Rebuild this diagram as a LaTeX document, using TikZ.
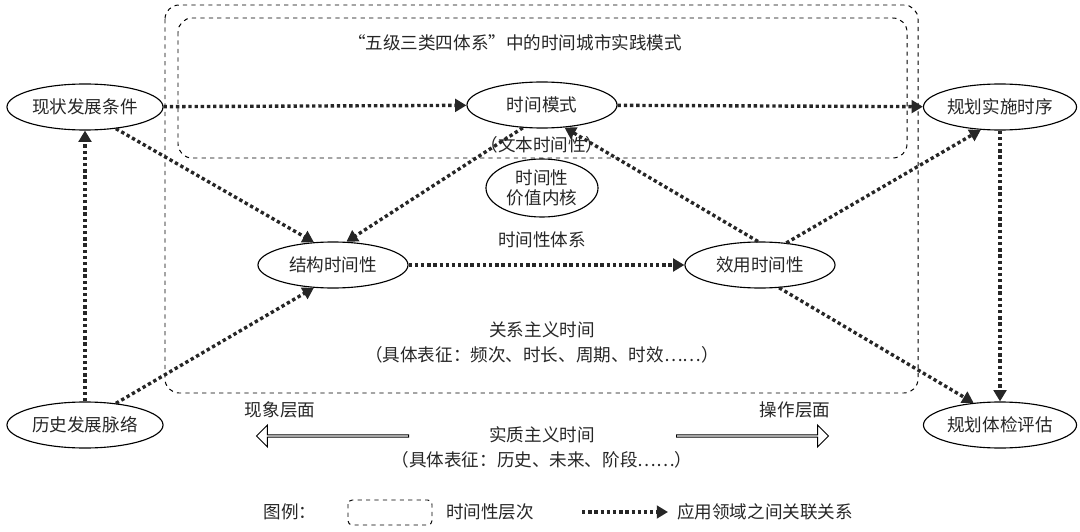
\documentclass[tikz,border=0pt]{standalone}
\usepackage{fontspec}
\setmainfont{Noto Sans CJK SC}
\usetikzlibrary{arrows.meta,shapes.geometric,shapes.arrows}
\begin{document}
\begin{tikzpicture}[x=0.025cm,y=-0.025cm,
  every node/.style={font=\fontsize{12.5pt}{15pt}\selectfont,text=black!85},
  el/.style={ellipse,draw,line width=0.8pt,minimum width=#1,minimum height=1.15cm,inner sep=1pt},
  dotarrow/.style={line width=2.4pt,dotted,-{Triangle[length=8pt,width=9pt]},black!85},
  frame/.style={draw,dashed,rounded corners=10pt,line width=0.7pt}]
\useasboundingbox (0,0) rectangle (1080,532);
\draw[frame] (165,5) rectangle (918,393);
\draw[frame] (178,18) rectangle (907,158);
\node at (515,43) {“五级三类四体系”中的时间城市实践模式};
\node[el=3.9cm] (xz) at (85,107) {现状发展条件};
\node[el=3.75cm] (sm) at (542,105) {时间模式};
\node[el=3.75cm] (gs) at (1000,107) {规划实施时序};
\node[el=3.75cm] (jg) at (333,265) {结构时间性};
\node[el=3.75cm] (xy) at (760,265) {效用时间性};
\node[el=3.9cm] (ls) at (85,425) {历史发展脉络};
\node[el=3.75cm] (gt) at (1000,425) {规划体检评估};
\node[ellipse,draw,line width=0.8pt,minimum width=2.8cm,minimum height=1.45cm,inner sep=0pt,align=center,font=\fontsize{12.5pt}{14pt}\selectfont] (hx) at (542,188) {时间性\\价值内核};
\node (wb) at (542,145) {（文本时间性）};
\node (tx) at (542,240) {时间性体系};
\node (gx) at (542,330) {关系主义时间};
\node (gx2) at (542,355) {（具体表征：频次、时长、周期、时效……）};
\node (xx) at (280,410) {现象层面};
\node (cz) at (795,410) {操作层面};
\node (sz) at (542,435) {实质主义时间};
\node (sz2) at (542,460) {（具体表征：历史、未来、阶段……）};
\node[single arrow,draw,line width=0.7pt,shape border rotate=180,minimum width=0.55cm,single arrow head extend=0.12cm,minimum height=3.8cm,inner sep=0pt] (la) at (333,436) {};
\node[single arrow,draw,line width=0.7pt,minimum width=0.55cm,single arrow head extend=0.12cm,minimum height=3.8cm,inner sep=0pt] (ra) at (752,436) {};
\draw[dotarrow] (xz) -- (sm);
\draw[dotarrow] (sm) -- (gs);
\draw[dotarrow] (xz.-35) -- (jg.130);
\draw[dotarrow] (sm.-130) -- (jg.60);
\draw[dotarrow] (jg) -- (xy);
\draw[dotarrow] (xy.95) -- (sm.-45);
\draw[dotarrow] (xy.40) -- (gs.-130);
\draw[dotarrow] (xy.-50) -- (gt.140);
\draw[dotarrow] (gs) -- (gt);
\draw[dotarrow] (ls) -- (xz);
\draw[dotarrow] (ls.35) -- (jg.-130);
% legend
\node (tl) at (290,512) {图例：};
\draw[dashed,rounded corners=3pt,line width=0.7pt] (348,500) rectangle (432,525);
\node (lc) at (490,512) {时间性层次};
\coordinate (l1) at (582,512);
\coordinate (l2) at (668,512);
\draw[dotarrow] (l1) -- (l2);
\node (yy) at (765,512) {应用领域之间关联关系};
\end{tikzpicture}
\end{document}
